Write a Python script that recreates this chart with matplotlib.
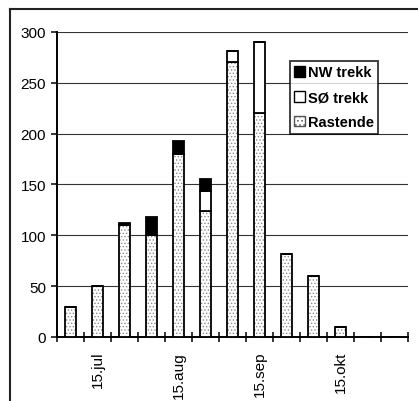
import numpy as np
import matplotlib.pyplot as plt
from matplotlib.lines import Line2D
from matplotlib.patches import Patch

plt.rcParams['font.family'] = ['Liberation Sans', 'DejaVu Sans']
plt.rcParams['hatch.linewidth'] = 0.6

# ten-day periods, July to early November
periods = ["5.jul", "15.jul", "25.jul", "5.aug", "15.aug", "25.aug", "5.sep",
           "15.sep", "25.sep", "5.okt", "15.okt", "25.okt", "5.nov"]
rastende = [30, 50, 110, 100, 180, 124, 270, 220, 82, 60, 10, 0, 0]
so_trekk = [0, 0, 0, 0, 0, 20, 11, 70, 0, 0, 0, 0, 0]
nw_trekk = [0, 0, 2, 18, 13, 11, 0, 0, 0, 0, 0, 0, 0]
shown_labels = ["15.jul", "15.aug", "15.sep", "15.okt"]

x = np.arange(len(periods))
rastende = np.array(rastende)
so_trekk = np.array(so_trekk)
nw_trekk = np.array(nw_trekk)
width = 0.43

fig = plt.figure(figsize=(4.18, 4.02), dpi=100)
ax = fig.add_axes([57 / 418, 1 - 338 / 402, 351 / 418, 305 / 402])

# stippled resting birds: dotted fill first, black outline on top
ax.bar(x, rastende, width, color='white', edgecolor='#8a8a8a', hatch='.....',
       linewidth=0, zorder=3)
ax.bar(x, rastende, width, fill=False, edgecolor='black', linewidth=1.3, zorder=4)
ax.bar(x, so_trekk, width, bottom=rastende, color='white', edgecolor='black',
       linewidth=1.3, zorder=4)
ax.bar(x, nw_trekk, width, bottom=rastende + so_trekk, color='black',
       edgecolor='black', linewidth=1.3, zorder=4)

ax.set_xlim(-0.5, len(periods) - 0.5)
ax.set_ylim(0, 300)
ax.set_yticks(range(0, 301, 50))
ax.yaxis.grid(True, color='#333333', linewidth=0.8)
ax.set_axisbelow(True)

# boundary ticks between periods, labels centred on every third period
ax.set_xticks(np.arange(-0.5, len(periods), 1.0))
ax.set_xticklabels([])
ax.tick_params(axis='x', which='major', direction='inout', length=7, width=1.1)
ax.set_xticks([periods.index(p) for p in shown_labels], minor=True)
ax.set_xticklabels(shown_labels, minor=True, rotation=90, fontsize=11)
ax.tick_params(axis='x', which='minor', length=0, pad=10)
ax.tick_params(axis='y', direction='out', length=4, width=1.1, labelsize=11, pad=4)

for side in ['top', 'right']:
    ax.spines[side].set_visible(False)
for side in ['left', 'bottom']:
    ax.spines[side].set_linewidth(1.4)

handles = [
    Patch(facecolor='black', edgecolor='black', label='NW trekk'),
    Patch(facecolor='white', edgecolor='black', label='SØ trekk'),
    Patch(facecolor='white', edgecolor='#555555', hatch='....', label='Rastende'),
]
leg = ax.legend(handles=handles, loc='upper right', bbox_to_anchor=(0.915, 0.905),
                frameon=True, fancybox=False, prop={'weight': 'bold', 'size': 10.5},
                handlelength=0.75, handleheight=0.75, handletextpad=0.2,
                borderpad=0.3, labelspacing=0.75, borderaxespad=0)
leg.get_frame().set_edgecolor('black')
leg.get_frame().set_linewidth(1.3)

# chart area border along top and left
fig.add_artist(Line2D([10 / 418, 1], [1 - 10 / 402] * 2, color='#222222', lw=1.5))
fig.add_artist(Line2D([10 / 418] * 2, [0, 1 - 10 / 402], color='#222222', lw=1.5))

fig.savefig('out.png', dpi=100)
